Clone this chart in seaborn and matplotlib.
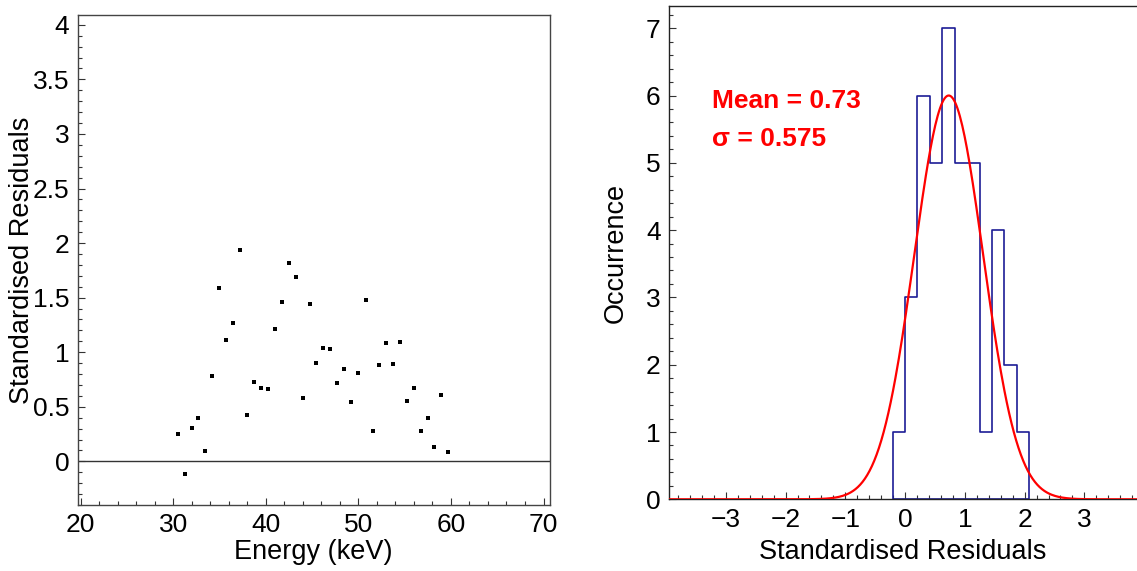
import numpy as np
import pandas as pd
import matplotlib
matplotlib.use("Agg")
import matplotlib.pyplot as plt
from matplotlib.ticker import MultipleLocator, FormatStrFormatter
import seaborn as sns

# ---------------- data ----------------
energy_kev = [30.51, 31.26, 32.02, 32.70, 33.46, 34.22, 34.97, 35.73, 36.49, 37.24,
              38.00, 38.76, 39.45, 40.21, 40.96, 41.75, 42.51, 43.26, 44.02, 44.76,
              45.46, 46.22, 46.97, 47.73, 48.49, 49.24, 50.00, 50.80, 51.56, 52.24,
              52.99, 53.75, 54.51, 55.27, 56.05, 56.81, 57.57, 58.22, 58.97, 59.73]
residuals = [0.248, -0.119, 0.309, 0.401, 0.092, 0.783, 1.590, 1.113, 1.266, 1.939,
             0.425, 0.725, 0.676, 0.667, 1.217, 1.461, 1.817, 1.688, 0.578, 1.445,
             0.902, 1.039, 1.025, 0.716, 0.847, 0.548, 0.814, 1.483, 0.278, 0.887,
             1.089, 0.893, 1.098, 0.557, 0.670, 0.278, 0.401, 0.131, 0.612, 0.085]

bin_edges = [-0.2075, 0.0, 0.2075, 0.415, 0.6225, 0.83, 1.0375, 1.245, 1.4525,
             1.66, 1.8675, 2.075]
bin_counts = [1, 3, 6, 5, 7, 5, 5, 1, 4, 2, 1]

fit_mean = 0.73
fit_sigma = 0.575
fit_amplitude = 6.0

# ---------------- style ----------------
sns.set_style("ticks")
plt.rcParams['font.family'] = ['Liberation Sans', 'DejaVu Sans']
plt.rcParams['xtick.direction'] = 'in'
plt.rcParams['ytick.direction'] = 'in'
plt.rcParams['text.color'] = 'black'
plt.rcParams['axes.labelcolor'] = 'black'
plt.rcParams['xtick.labelcolor'] = 'black'
plt.rcParams['ytick.labelcolor'] = 'black'

fig = plt.figure(figsize=(11.37, 5.71), dpi=100)
ax1 = fig.add_axes([77.5 / 1137, (571 - 505) / 571, (550 - 77.5) / 1137, (505 - 15) / 571])
ax2 = fig.add_axes([669 / 1137, (571 - 499.3) / 571, (1137 - 669) / 1137, (499.3 - 6) / 571])

tick_fs = 19
label_fs = 19.5

# ---------------- left panel ----------------
df = pd.DataFrame({"Energy": energy_kev, "Residual": residuals})
ax1.axhline(0, color="#333333", lw=1.0, zorder=1)
sns.scatterplot(data=df, x="Energy", y="Residual", ax=ax1, marker="s", s=7,
                color="black", linewidth=0, zorder=3)
ax1.set_xlim(19.65, 70.7)
ax1.set_ylim(-0.40, 4.09)
ax1.xaxis.set_major_locator(MultipleLocator(10))
ax1.xaxis.set_minor_locator(MultipleLocator(2))
ax1.yaxis.set_major_locator(MultipleLocator(0.5))
ax1.yaxis.set_minor_locator(MultipleLocator(0.1))
ax1.yaxis.set_major_formatter(FormatStrFormatter('%g'))
ax1.set_xlabel("Energy (keV)", fontsize=label_fs, labelpad=1)
ax1.set_ylabel("Standardised Residuals", fontsize=label_fs, labelpad=-2)
for sp in ax1.spines.values():
    sp.set_visible(True)
    sp.set_color("#444444")
    sp.set_linewidth(1.0)

# ---------------- right panel ----------------
centers = [(bin_edges[i] + bin_edges[i + 1]) / 2 for i in range(len(bin_counts))]
hdf = pd.DataFrame({"x": centers, "w": bin_counts})
sns.histplot(data=hdf, x="x", weights="w", bins=bin_edges, element="step",
             fill=True, alpha=0, color="#1c1c96", linewidth=1.2,
             ax=ax2, zorder=2)

xs = np.linspace(-3.95, 3.88, 400)
ys = fit_amplitude * np.exp(-0.5 * ((xs - fit_mean) / fit_sigma) ** 2)
gdf = pd.DataFrame({"x": xs, "y": ys})
sns.lineplot(data=gdf, x="x", y="y", ax=ax2, color="#ff0000", lw=1.6, sort=False, zorder=3)

ax2.set_xlim(-3.95, 3.88)
ax2.set_ylim(0, 7.33)
ax2.xaxis.set_major_locator(MultipleLocator(1))
ax2.xaxis.set_minor_locator(MultipleLocator(0.2))
ax2.yaxis.set_major_locator(MultipleLocator(1))
ax2.yaxis.set_minor_locator(MultipleLocator(0.2))
ax2.set_xticks([-3, -2, -1, 0, 1, 2, 3])
ax2.set_xlabel("Standardised Residuals", fontsize=label_fs, labelpad=5)
ax2.set_ylabel("Occurrence", fontsize=label_fs, labelpad=12)
for name, sp in ax2.spines.items():
    sp.set_color("#222222")
    sp.set_linewidth(1.0)
ax2.spines["right"].set_visible(False)
ax2.spines["top"].set_visible(True)

ax2.text(0.091, 0.7926, "Mean = 0.73", transform=ax2.transAxes, color="#ff0000",
         fontsize=19, fontweight="bold", va="baseline", ha="left")
ax2.text(0.091, 0.716, "σ = 0.575", transform=ax2.transAxes, color="#ff0000",
         fontsize=19, fontweight="bold", va="baseline", ha="left")

for ax in (ax1, ax2):
    ax.tick_params(which="major", length=5, width=0.8, labelsize=tick_fs, pad=6,
                   color="#333333")
    ax.tick_params(which="minor", length=3, width=0.8, color="#333333")

fig.savefig("out.png", dpi=100)
